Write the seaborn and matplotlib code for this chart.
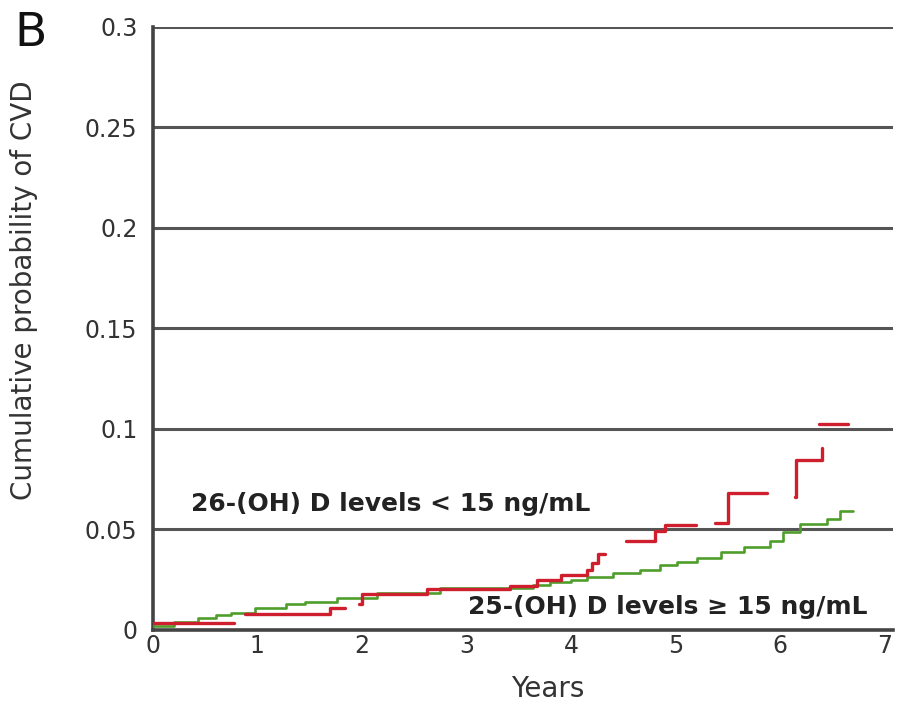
import numpy as np
import pandas as pd
import matplotlib
matplotlib.use("Agg")
import matplotlib.pyplot as plt
import seaborn as sns

# red curve (<15 ng/mL) is drawn in pieces, the picture has gaps between them
red_years = [0, 0.78,
             0.88, 1.69, 1.84,
             1.97, 2.0, 2.62, 3.42, 3.67, 3.9, 4.15, 4.2, 4.26, 4.32,
             4.53, 4.8, 4.9, 5.19,
             5.38, 5.5, 5.87,
             6.14, 6.15, 6.4,
             6.37, 6.65]
red_prob = [0.0035, 0.0035,
            0.008, 0.011, 0.011,
            0.013, 0.018, 0.0205, 0.022, 0.025, 0.0275, 0.030, 0.0335, 0.038, 0.038,
            0.044, 0.049, 0.052, 0.052,
            0.053, 0.068, 0.068,
            0.066, 0.0845, 0.0905,
            0.1025, 0.1025]
red_piece = [0, 0,
             1, 1, 1,
             2, 2, 2, 2, 2, 2, 2, 2, 2, 2,
             3, 3, 3, 3,
             4, 4, 4,
             5, 5, 5,
             6, 6]

# green curve (>=15 ng/mL)
green_years = [0, 0.2, 0.43, 0.6, 0.75, 0.98, 1.27, 1.46, 1.76, 2.14, 2.75, 3.64,
               3.8, 4.0, 4.15, 4.4, 4.66, 4.85, 5.01, 5.2, 5.43, 5.65, 5.9, 6.03,
               6.19, 6.45, 6.57, 6.7]
green_prob = [0.002, 0.004, 0.006, 0.0075, 0.0085, 0.011, 0.013, 0.014, 0.016, 0.0185,
              0.021, 0.0225, 0.024, 0.025, 0.0265, 0.0285, 0.030, 0.0325, 0.034, 0.036,
              0.039, 0.0415, 0.044, 0.0485, 0.0525, 0.055, 0.059, 0.059]

y_ticks = [0, 0.05, 0.1, 0.15, 0.2, 0.25, 0.3]
y_labels = ['0', '0.05', '0.1', '0.15', '0.2', '0.25', '0.3']
x_ticks = [0, 1, 2, 3, 4, 5, 6, 7]

red_df = pd.DataFrame({'years': red_years, 'prob': red_prob, 'piece': red_piece})
green_df = pd.DataFrame({'years': green_years, 'prob': green_prob})

sns.set_style("white")
plt.rcParams['font.family'] = ['DejaVu Sans']

fig = plt.figure(figsize=(9.04, 7.07), dpi=100)
ax = fig.add_axes([0.169, 0.109, 0.819, 0.853])

grid_col = '#555555'
for v in y_ticks[1:]:
    ax.axhline(v, color=grid_col, lw=2.2, zorder=1)

sns.lineplot(data=green_df, x='years', y='prob', drawstyle='steps-post',
             color='#4f9e2c', lw=1.9, ax=ax, zorder=3)
sns.lineplot(data=red_df, x='years', y='prob', units='piece', estimator=None,
             drawstyle='steps-post', color='#cf1f2e', lw=2.4, ax=ax, zorder=4)

ax.set_xlim(0, 7.08)
ax.set_ylim(0, 0.3)
ax.set_xticks(x_ticks)
ax.set_yticks(y_ticks)
ax.set_yticklabels(y_labels)
ax.tick_params(axis='both', length=0, labelsize=17, labelcolor='#333333')
ax.tick_params(axis='x', pad=3)
ax.tick_params(axis='y', pad=11)

sns.despine(ax=ax, top=True, right=True)
for side in ['left', 'bottom']:
    ax.spines[side].set_color('#444444')
    ax.spines[side].set_linewidth(2.6)

ax.set_xlabel('Years', fontsize=20, color='#333333')
ax.set_ylabel('Cumulative probability of CVD', fontsize=20, color='#333333')
ax.xaxis.set_label_coords(0.534, -0.075)
ax.yaxis.set_label_coords(-0.155, 0.564)

ax.text(0.37, 0.0625, '26-(OH) D levels < 15 ng/mL', fontsize=18, fontweight='bold',
        color='#222222', va='center', ha='left', zorder=5)
ax.text(3.01, 0.0115, '25-(OH) D levels \u2265 15 ng/mL', fontsize=18, fontweight='bold',
        color='#222222', va='center', ha='left', zorder=5)

fig.text(0.016, 0.935, 'B', fontsize=34, color='#111111', va='baseline')

fig.savefig('out.png', dpi=100)
